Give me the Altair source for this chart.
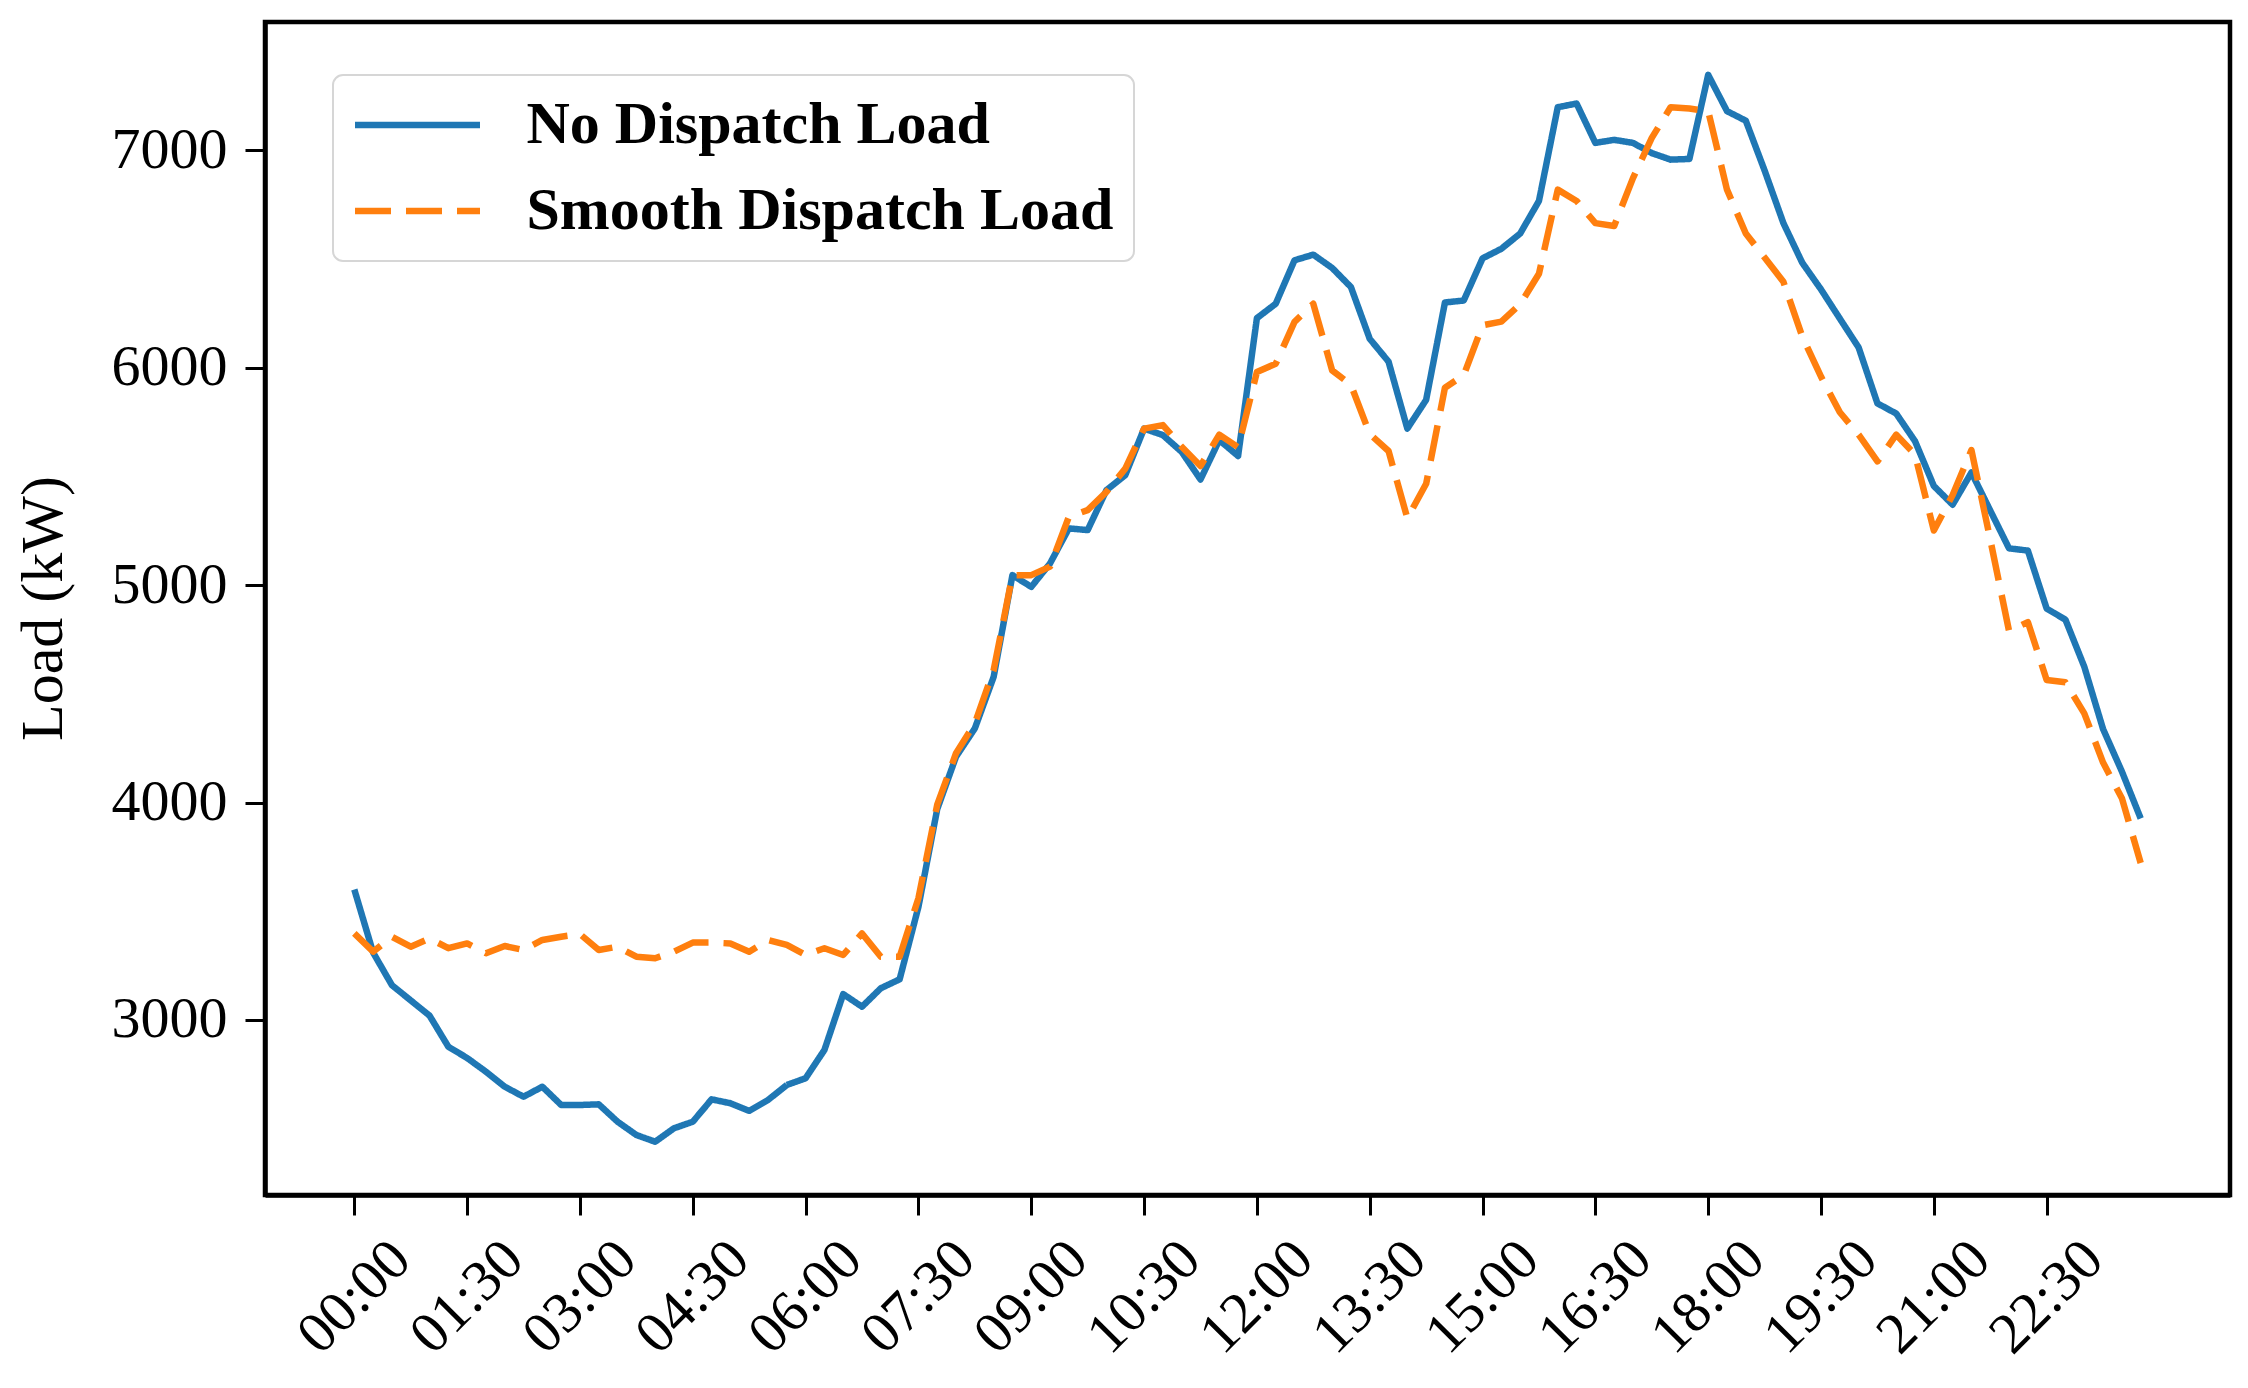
import json
import altair as alt
import pandas as pd

# 15-minute time slots 00:00 .. 23:45
times = [f"{h:02d}:{m:02d}" for h in range(24) for m in (0, 15, 30, 45)]

tick_labels = ["00:00", "01:30", "03:00", "04:30", "06:00", "07:30", "09:00", "10:30",
               "12:00", "13:30", "15:00", "16:30", "18:00", "19:30", "21:00", "22:30"]

y_ticks = [3000, 4000, 5000, 6000, 7000]

series_names = ["No Dispatch Load", "Smooth Dispatch Load"]

no_dispatch = [
    3600, 3310, 3160, 3090, 3020, 2877, 2825, 2762, 2693, 2647, 2693, 2609,
    2609, 2612, 2532, 2471, 2440, 2502, 2532, 2635, 2617, 2582, 2632, 2701,
    2732, 2862, 3119, 3061, 3146, 3187, 3520, 3970, 4211, 4341, 4578, 5046,
    4992, 5100, 5261, 5253, 5437, 5506, 5720, 5690, 5613, 5486, 5667, 5594,
    6228, 6294, 6494, 6520, 6459, 6371, 6133, 6028, 5720, 5852, 6300, 6309,
    6503, 6547, 6617, 6767, 7198, 7215, 7034, 7048, 7034, 6987, 6957, 6960,
    7347, 7180, 7136, 6907, 6665, 6483, 6360, 6226, 6093, 5836, 5789, 5662,
    5456, 5370, 5518, 5343, 5169, 5159, 4892, 4841, 4625, 4338, 4143, 3927,
]

smooth_dispatch = [
    3398, 3314, 3383, 3337, 3375, 3330, 3352, 3307, 3340, 3322, 3368, 3383,
    3395, 3322, 3337, 3291, 3284, 3314, 3356, 3356, 3352, 3314, 3368, 3345,
    3299, 3330, 3299, 3398, 3291, 3291, 3560, 3990, 4227, 4364, 4609, 5046,
    5046, 5085, 5314, 5345, 5429, 5536, 5720, 5736, 5636, 5548, 5692, 5634,
    5980, 6018, 6211, 6294, 5988, 5921, 5695, 5617, 5308, 5466, 5908, 5966,
    6195, 6212, 6292, 6432, 6819, 6767, 6665, 6652, 6872, 7057, 7198, 7192,
    7180, 6819, 6617, 6507, 6395, 6144, 5959, 5795, 5692, 5569, 5692, 5600,
    5251, 5415, 5621, 5210, 4789, 4830, 4564, 4553, 4410, 4184, 4020, 3722,
]

rows = []
for name, vals in zip(series_names, [no_dispatch, smooth_dispatch]):
    for i, (t, v) in enumerate(zip(times, vals)):
        rows.append({"slot": i, "time": t, "load": v, "series": name})
df = pd.DataFrame(rows)

tick_slots = [times.index(t) for t in tick_labels]
label_expr = json.dumps(tick_labels) + "[round(datum.value / 6)]"

FONT = "Liberation Serif"

legend = alt.Legend(
    orient="none", legendX=68, legendY=53,
    title=None,
    symbolType="M-2.5,0H2.5", symbolSize=2500, symbolStrokeWidth=6.5,
    symbolOffset=34.5,
    labelFont=FONT, labelFontSize=60, labelFontWeight="bold", labelColor="black",
    labelOffset=79, labelLimit=2000, padding=20, rowPadding=26,
    fillColor="white", strokeColor="#d6d6d6", cornerRadius=10,
)

chart = alt.Chart(df).mark_line(strokeWidth=6.5, strokeCap="butt", strokeJoin="round").encode(
    x=alt.X("slot:Q",
            scale=alt.Scale(domain=[-4.75, 99.75], nice=False, zero=False),
            axis=alt.Axis(values=tick_slots, labelExpr=label_expr, title=None, labelAngle=315,
                          labelAlign="center", labelBaseline="middle",
                          labelPadding=82, labelFont=FONT, labelFontSize=58,
                          labelColor="black", labelOverlap=False, labelFlush=False,
                          tickSize=20, tickWidth=3, tickColor="black",
                          domainColor="black", domainWidth=4.5, grid=False)),
    y=alt.Y("load:Q",
            scale=alt.Scale(domain=[2195, 7590], nice=False, zero=False),
            axis=alt.Axis(values=y_ticks, format="d", title="Load (kW)",
                          titleFont=FONT, titleFontSize=60, titleFontWeight="normal",
                          titleColor="black", titleAngle=270, titleX=-222, titleY=586,
                          titleAlign="center", titleBaseline="middle",
                          labelFont=FONT, labelFontSize=58, labelColor="black",
                          labelPadding=18, tickSize=20, tickWidth=3, tickColor="black",
                          domainColor="black", domainWidth=4.5, grid=False)),
    color=alt.Color("series:N",
                    scale=alt.Scale(domain=series_names, range=["#1f77b4", "#ff7f0e"]),
                    legend=legend),
    strokeDash=alt.StrokeDash("series:N",
                              scale=alt.Scale(domain=series_names, range=[[1, 0], [36, 15]]),
                              legend=legend),
).properties(
    width=1965, height=1173,
    autosize=alt.AutoSizeParams(type="none"),
    padding={"left": 257, "top": 14, "right": 10, "bottom": 180},
    background="white",
).configure_view(
    stroke="black", strokeWidth=4.5
).configure_legend(
    strokeWidth=2
)

chart.save("out.html", embed_options={"renderer": "svg", "actions": False})
